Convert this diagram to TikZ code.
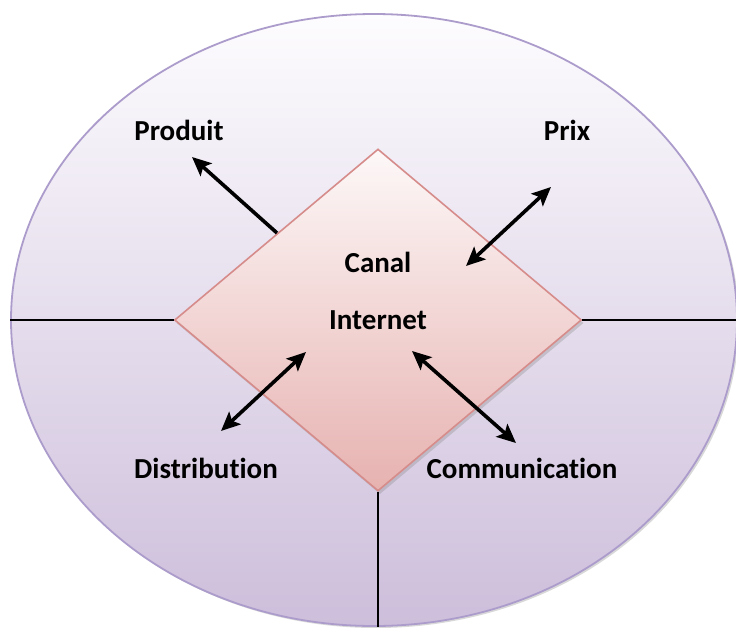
\documentclass[tikz,border=0pt]{standalone}
\usepackage{fontspec}
\setmainfont[Ligatures={NoCommon,NoRare,NoContextual},Contextuals=NoAlternate]{Carlito}
\usetikzlibrary{shapes.geometric,arrows.meta}
\definecolor{ovalline}{RGB}{172,156,204}
\definecolor{ovaltop}{RGB}{253,252,254}
\definecolor{ovalbot}{RGB}{205,190,219}
\definecolor{diamline}{RGB}{214,140,138}
\definecolor{diamtop}{RGB}{253,248,248}
\definecolor{diambot}{RGB}{230,178,176}
\tikzset{
  oval/.style={ellipse, draw=ovalline, line width=1.8pt, top color=ovaltop, bottom color=ovalbot, minimum width=726pt, minimum height=612pt, inner sep=0pt},
  rhomb/.style={diamond, draw=diamline, line width=1.6pt, top color=diamtop, bottom color=diambot, minimum width=407pt, minimum height=342pt, inner sep=0pt},
  rhombshade/.style={diamond, fill=black!45, opacity=0.35, minimum width=407pt, minimum height=342pt, inner sep=0pt},
  lbl/.style={font=\bfseries\fontsize{29}{35}\selectfont, text=black, inner sep=0pt},
  divider/.style={black, line width=1.6pt},
  link/.style={black, line width=3.6pt, -{Stealth[length=19pt, width=17pt, inset=4pt]}},
  biglink/.style={black, line width=3.6pt, {Stealth[length=19pt, width=17pt, inset=4pt]}-{Stealth[length=19pt, width=17pt, inset=4pt]}}
}
\begin{document}
\begin{tikzpicture}[x=1pt, y=-1pt]
  \useasboundingbox (0,0) rectangle (736,627);
  \clip (0,0) rectangle (736,627);
  % soft shadow under the oval
  \fill[black!30, opacity=0.5] (376,322) ellipse [x radius=363, y radius=306];
  \node[oval] (oval) at (374,320) {};
  % diamond with its shadow
  \node[rhombshade] (rhs) at (380,323) {};
  \node[rhomb] (rh) at (378,320) {};
  % dividing lines
  \coordinate (rgt) at (736,320);
  \draw[divider] (oval.west) -- (rh.west);
  \draw[divider] (rh.east) -- (rgt);
  \draw[divider] (rh.south) -- (rh.south |- oval.south);
  % labels
  \node[lbl] (canal) at (378,262) {Canal};
  \node[lbl] (internet) at (378,320) {Internet};
  \node[lbl] (produit) at (179,130) {Produit};
  \node[lbl] (prix) at (567,130) {Prix};
  \node[lbl] (distr) at (206,468) {Distribution};
  \node[lbl] (comm) at (522,468) {Communication};
  % arrow ends
  \coordinate (a1s) at (277,233); \coordinate (a1e) at (192,157);
  \coordinate (a2s) at (466,266); \coordinate (a2e) at (551,187);
  \coordinate (a3s) at (306,352); \coordinate (a3e) at (221,431);
  \coordinate (a4s) at (412,351); \coordinate (a4e) at (516,443);
  \draw[link] (a1s) -- (a1e);
  \draw[biglink] (a2s) -- (a2e);
  \draw[biglink] (a3s) -- (a3e);
  \draw[biglink] (a4s) -- (a4e);
\end{tikzpicture}
\end{document}
